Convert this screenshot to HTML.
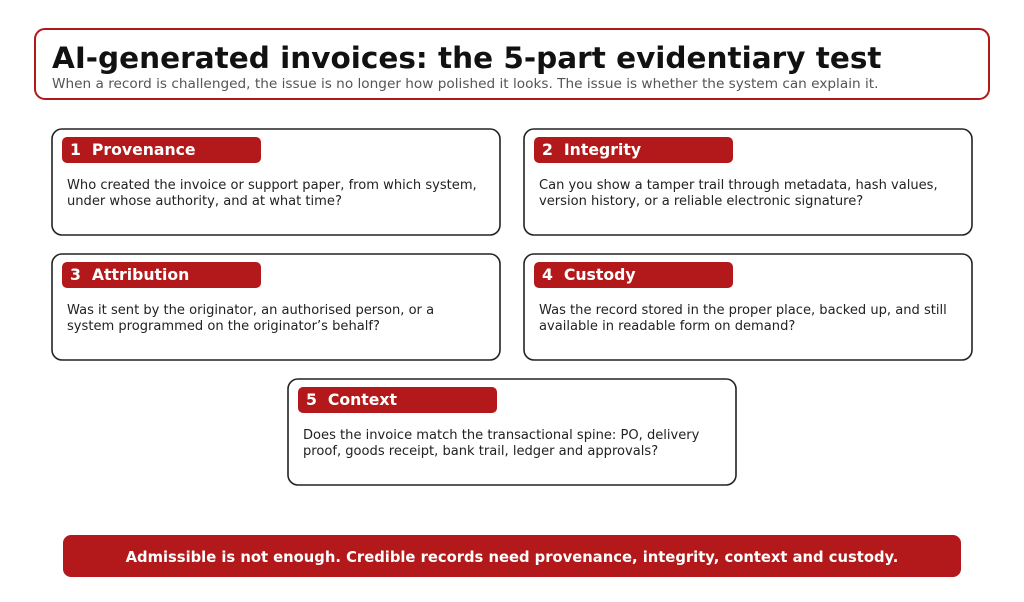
<!DOCTYPE html>
<html><head><style>body{margin:0;background:#fff}</style></head><body>
<svg width="1024" height="597" xmlns="http://www.w3.org/2000/svg" font-family="DejaVu Sans, sans-serif">
<rect x="35" y="29" width="954" height="70" rx="10" fill="#fff" stroke="#b3191b" stroke-width="2"/>
<text x="52" y="68" font-size="29.5" font-weight="bold" fill="#111">AI-generated invoices: the 5-part evidentiary test</text>
<text x="52" y="88" font-size="13.65" fill="#555">When a record is challenged, the issue is no longer how polished it looks. The issue is whether the system can explain it.</text>
<g font-size="13.07" fill="#222">
<rect x="52" y="129" width="448" height="106" rx="10" fill="#fff" stroke="#222" stroke-width="1.6"/>
<rect x="62" y="137" width="199" height="26" rx="5" fill="#b3191b"/>
<text x="70" y="155" font-size="15.7" font-weight="bold" fill="#fff" xml:space="preserve">1  Provenance</text>
<text x="67" y="189">Who created the invoice or support paper, from which system,</text>
<text x="67" y="205">under whose authority, and at what time?</text>

<rect x="524" y="129" width="448" height="106" rx="10" fill="#fff" stroke="#222" stroke-width="1.6"/>
<rect x="534" y="137" width="199" height="26" rx="5" fill="#b3191b"/>
<text x="542" y="155" font-size="15.7" font-weight="bold" fill="#fff" xml:space="preserve">2  Integrity</text>
<text x="539" y="189">Can you show a tamper trail through metadata, hash values,</text>
<text x="539" y="205">version history, or a reliable electronic signature?</text>

<rect x="52" y="254" width="448" height="106" rx="10" fill="#fff" stroke="#222" stroke-width="1.6"/>
<rect x="62" y="262" width="199" height="26" rx="5" fill="#b3191b"/>
<text x="70" y="280" font-size="15.7" font-weight="bold" fill="#fff" xml:space="preserve">3  Attribution</text>
<text x="67" y="314">Was it sent by the originator, an authorised person, or a</text>
<text x="67" y="330">system programmed on the originator’s behalf?</text>

<rect x="524" y="254" width="448" height="106" rx="10" fill="#fff" stroke="#222" stroke-width="1.6"/>
<rect x="534" y="262" width="199" height="26" rx="5" fill="#b3191b"/>
<text x="542" y="280" font-size="15.7" font-weight="bold" fill="#fff" xml:space="preserve">4  Custody</text>
<text x="539" y="314">Was the record stored in the proper place, backed up, and still</text>
<text x="539" y="330">available in readable form on demand?</text>

<rect x="288" y="379" width="448" height="106" rx="10" fill="#fff" stroke="#222" stroke-width="1.6"/>
<rect x="298" y="387" width="199" height="26" rx="5" fill="#b3191b"/>
<text x="306" y="405" font-size="15.7" font-weight="bold" fill="#fff" xml:space="preserve">5  Context</text>
<text x="303" y="439">Does the invoice match the transactional spine: PO, delivery</text>
<text x="303" y="455">proof, goods receipt, bank trail, ledger and approvals?</text>
</g>
<rect x="63" y="535" width="898" height="42" rx="8" fill="#b3191b"/>
<text x="512" y="562" font-size="14.76" font-weight="bold" fill="#fff" text-anchor="middle">Admissible is not enough. Credible records need provenance, integrity, context and custody.</text>
</svg>
</body></html>
